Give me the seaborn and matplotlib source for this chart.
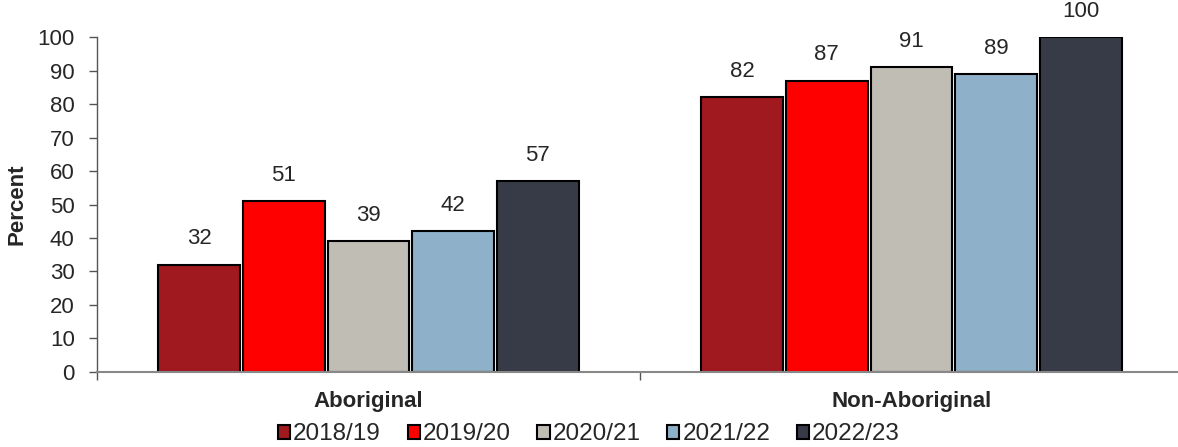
import matplotlib
matplotlib.use("Agg")
import matplotlib.pyplot as plt
import seaborn as sns
import pandas as pd
from matplotlib.ticker import FixedLocator

categories = ["Aboriginal", "Non-Aboriginal"]
years = ["2018/19", "2019/20", "2020/21", "2021/22", "2022/23"]
values_2018_19 = [32, 82]
values_2019_20 = [51, 87]
values_2020_21 = [39, 91]
values_2021_22 = [42, 89]
values_2022_23 = [57, 100]
colors = ["#A0191E", "#FF0000", "#C0BDB5", "#8EB0C8", "#373B47"]

series = [values_2018_19, values_2019_20, values_2020_21, values_2021_22, values_2022_23]
rows = []
for y, vals in zip(years, series):
    for c, v in zip(categories, vals):
        rows.append({"Group": c, "Year": y, "Value": v})
df = pd.DataFrame(rows)

sns.set_style("white")
plt.rcParams["font.family"] = ["Liberation Sans", "DejaVu Sans"]

fig = plt.figure(figsize=(11.78, 4.47), dpi=100)
ax = fig.add_axes([0.0823, 0.168, 0.922, 0.749])

sns.barplot(data=df, x="Group", y="Value", hue="Year", order=categories,
            hue_order=years, palette=colors, saturation=1, width=0.78, gap=0.035,
            edgecolor="black", linewidth=1.5, ax=ax, legend=True)

for cont in ax.containers:
    ax.bar_label(cont, fmt="%d", padding=11, fontsize=16)

ax.set_ylim(0, 100)
ax.set_xlim(-0.5, 1.5)
ax.set_yticks(range(0, 101, 10))
ax.tick_params(axis="y", labelsize=16, length=6, width=1, color="#555555", direction="out", left=True, pad=10)
ax.tick_params(axis="x", which="major", length=0, labelsize=16, pad=14)
ax.xaxis.set_minor_locator(FixedLocator([-0.5, 0.5, 1.5]))
ax.tick_params(axis="x", which="minor", length=6, width=1, color="#555555", direction="out", bottom=True)
for lab in ax.get_xticklabels():
    lab.set_fontweight("bold")
ax.set_xlabel("")
ax.set_ylabel("Percent", fontsize=16, fontweight="bold", labelpad=7)

for s in ["top", "right"]:
    ax.spines[s].set_visible(False)
ax.spines["left"].set_color("#555555")
ax.spines["bottom"].set_color("#888888")
ax.spines["left"].set_linewidth(1)
ax.spines["bottom"].set_linewidth(1.5)

h, l = ax.get_legend_handles_labels()
ax.get_legend().remove()
leg = fig.legend(h, l, loc="center", bbox_to_anchor=(0.5, 0.028), ncol=5, frameon=False,
                 fontsize=17.5, handlelength=0.5, handleheight=0.5, handletextpad=0.12,
                 columnspacing=1.1, borderpad=0.1)

fig.savefig("out.png", dpi=100)
